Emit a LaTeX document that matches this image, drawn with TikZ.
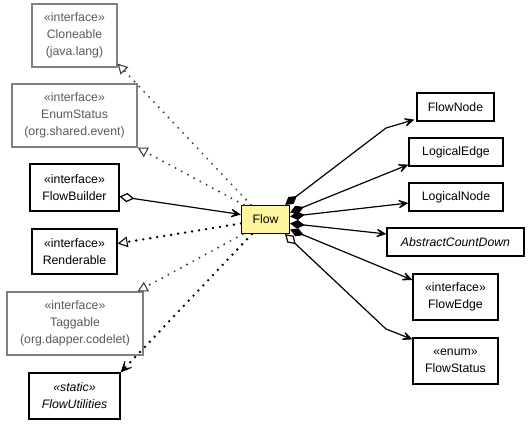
\documentclass[tikz,border=0pt]{standalone}
\usepackage{fontspec}
\setmainfont{Liberation Sans}
\usetikzlibrary{arrows.meta}

\definecolor{boxgray}{RGB}{128,128,128}
\definecolor{textgray}{RGB}{90,90,90}
\definecolor{dotgray}{RGB}{60,60,60}
\definecolor{flowyellow}{RGB}{255,245,155}

\begin{document}
\begin{tikzpicture}[x=0.75pt,y=-0.75pt,
	font=\fontsize{9.2}{12.6}\selectfont,
	cls/.style 2 args={draw=black,line width=0.9pt,fill=white,align=center,inner sep=0pt,
		minimum width=#1*0.75pt,minimum height=#2*0.75pt},
	gcls/.style 2 args={cls={#1}{#2},draw=boxgray,text=textgray},
	dots/.style={line width=2pt,dash pattern=on 0pt off 5.3pt,line cap=round},
	gdots/.style={dots,line width=1.6pt,color=dotgray},
	realize/.style={-{Triangle[length=7.5pt,width=8pt,fill=white,line width=0.8pt]}},
	uses/.style={-{Stealth[length=11pt,width=10pt,inset=7pt,line width=0.6pt]}},
	compose/.style={line width=0.9pt,{Diamond[length=11pt,width=6.5pt]}-{Stealth[length=11pt,width=10pt,inset=7pt]}},
	aggregate/.style={line width=0.9pt,{Diamond[length=11pt,width=7pt,fill=white]}-{Stealth[length=11pt,width=10pt,inset=7pt]}}]

\useasboundingbox (0,0) rectangle (531,424);

\node[gcls={85}{63}] (cloneable) at (74.5,35.5) {«interface»\\Cloneable\\(java.lang)};
\node[gcls={125}{63}] (enumstatus) at (74.5,115.5) {«interface»\\EnumStatus\\(org.shared.event)};
\node[cls={89}{47}] (flowbuilder) at (74.5,187.5) {«interface»\\FlowBuilder};
\node[cls={85}{45}] (renderable) at (74.5,251.5) {«interface»\\Renderable};
\node[gcls={136}{63}] (taggable) at (75,323.5) {«interface»\\Taggable\\(org.dapper.codelet)};
\node[cls={91}{46},font=\fontsize{9.2}{12.6}\selectfont\itshape] (flowutilities) at (74.5,396) {«static»\\FlowUtilities};

\node[cls={48}{28},fill=flowyellow] (flow) at (265.5,219.5) {Flow};

\node[cls={77}{28}] (flownode) at (455.5,107) {FlowNode};
\node[cls={94}{28}] (logicaledge) at (456,152) {LogicalEdge};
\node[cls={94}{28}] (logicalnode) at (456,197) {LogicalNode};
\node[cls={137}{28},font=\fontsize{9.2}{12.6}\selectfont\itshape] (abstractcd) at (455.5,242) {AbstractCountDown};
\node[cls={85}{46}] (flowedge) at (455.5,297) {«interface»\\FlowEdge};
\node[cls={85}{46}] (flowstatus) at (455.5,361) {«enum»\\FlowStatus};

\draw[gdots,realize] ([shift={(10,0)}]flow.north west) -- ([shift={(0,-4)}]cloneable.south east);
\draw[gdots,realize] ([shift={(3,0)}]flow.north west) -- (enumstatus.south east);
\draw[gdots,realize] ([shift={(2,0)}]flow.south west) -- ([shift={(-6,0)}]taggable.north east);
\draw[dots,realize] ([shift={(0,4)}]flow.west) -- ([shift={(0,-8)}]renderable.east);
\draw[dots,uses] ([shift={(11,0)}]flow.south west) -- (flowutilities.north east);
\draw[aggregate] ([shift={(0,9)}]flowbuilder.east) -- ([shift={(0,-5)}]flow.west);

\draw[compose] ([shift={(-5,0)}]flow.north east) -- (386,128) -- ([shift={(-2,-2)}]flownode.south west);
\draw[compose] ([shift={(0,-7)}]flow.east) -- ([shift={(0,-2)}]logicaledge.south west);
\draw[compose] ([shift={(0,-3)}]flow.east) -- ([shift={(0,6)}]logicalnode.west);
\draw[compose] ([shift={(0,4)}]flow.east) -- ([shift={(0,-8)}]abstractcd.west);
\draw[compose] ([shift={(0,10)}]flow.east) -- ([shift={(0,-17)}]flowedge.west);
\draw[aggregate] ([shift={(-5,0)}]flow.south east) -- (386,329) -- ([shift={(0,2)}]flowstatus.north west);

\end{tikzpicture}
\end{document}
